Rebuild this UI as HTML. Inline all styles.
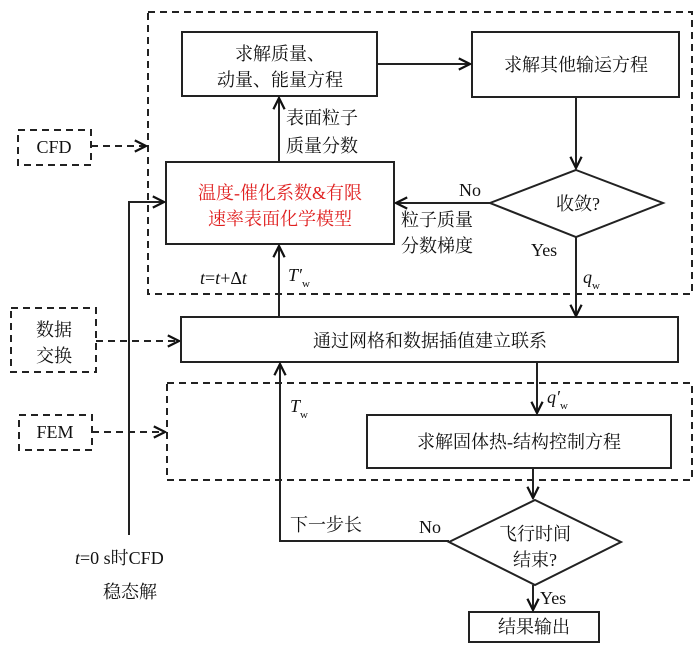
<!DOCTYPE html>
<html><head><meta charset="utf-8"><style>
html,body{margin:0;padding:0;background:#fff}
svg text{font-family:"Liberation Serif","Noto Serif CJK SC",serif;font-size:18px;fill:#111}
</style></head><body>
<svg width="700" height="650" viewBox="0 0 700 650" xmlns="http://www.w3.org/2000/svg">
<defs>
<marker id="a" viewBox="0 0 10 10" refX="9" refY="5" markerWidth="7" markerHeight="7" orient="auto-start-reverse">
<path d="M1,1 L9,5 L1,9" fill="none" stroke="#111" stroke-width="1.6"/></marker>
</defs>
<g fill="none" stroke="#222" stroke-width="2" stroke-dasharray="7,5">
<rect x="148" y="12" width="544" height="282"/>
<rect x="167" y="383" width="525" height="97"/>
<rect x="18" y="130" width="73" height="35"/>
<rect x="11" y="308" width="85" height="64"/>
<rect x="19" y="415" width="73" height="35"/>
<path d="M91,146 H146" marker-end="url(#a)"/>
<path d="M96,341 H179" marker-end="url(#a)"/>
<path d="M92,432 H165" marker-end="url(#a)"/>
</g>
<g fill="#fff" stroke="#222" stroke-width="2">
<rect x="182" y="32" width="195" height="64"/>
<rect x="472" y="32" width="207" height="65"/>
<rect x="166" y="162" width="228" height="82"/>
<rect x="181" y="317" width="497" height="45"/>
<rect x="367" y="415" width="304" height="53"/>
<rect x="469" y="612" width="130" height="30"/>
<polygon points="576,170 663,203 576,237 490,203"/>
<polygon points="535,500 621,542 535,585 449,542"/>
</g>
<g fill="none" stroke="#222" stroke-width="2">
<path d="M377,64 H470" marker-end="url(#a)"/>
<path d="M576,97 V168" marker-end="url(#a)"/>
<path d="M490,203 H396" marker-end="url(#a)"/>
<path d="M279,162 V98" marker-end="url(#a)"/>
<path d="M279,317 V246" marker-end="url(#a)"/>
<path d="M576,237 V316" marker-end="url(#a)"/>
<path d="M129,535 V202 H164" marker-end="url(#a)"/>
<path d="M537,362 V413" marker-end="url(#a)"/>
<path d="M533,468 V498" marker-end="url(#a)"/>
<path d="M449,541 H280 V364" marker-end="url(#a)"/>
<path d="M533,585 V610" marker-end="url(#a)"/>
</g>
<g text-anchor="middle">
<text x="280" y="60">求解质量、</text>
<text x="280" y="86">动量、能量方程</text>
<text x="576" y="71">求解其他输运方程</text>
<text x="280" y="199" style="fill:#e02020">温度-催化系数&amp;有限</text>
<text x="280" y="225" style="fill:#e02020">速率表面化学模型</text>
<text x="578" y="210">收敛?</text>
<text x="430" y="347">通过网格和数据插值建立联系</text>
<text x="519" y="448">求解固体热-结构控制方程</text>
<text x="534" y="633">结果输出</text>
<text x="535" y="540">飞行时间</text>
<text x="535" y="566">结束?</text>
<text x="54" y="153">CFD</text>
<text x="54" y="336">数据</text>
<text x="54" y="362">交换</text>
<text x="55" y="438">FEM</text>
<text x="130" y="598">稳态解</text>
</g>
<text x="286" y="124">表面粒子</text>
<text x="286" y="152">质量分数</text>
<text x="401" y="226">粒子质量</text>
<text x="401" y="252">分数梯度</text>
<text x="459" y="196">No</text>
<text x="531" y="256">Yes</text>
<text x="419" y="533">No</text>
<text x="540" y="604">Yes</text>
<text x="290" y="531">下一步长</text>
<text x="200" y="284"><tspan font-style="italic">t</tspan>=<tspan font-style="italic">t</tspan>+Δ<tspan font-style="italic">t</tspan></text>
<text x="288" y="281" font-style="italic">T′<tspan font-size="11" dy="6" font-style="normal">w</tspan></text>
<text x="583" y="283" font-style="italic">q<tspan font-size="11" dy="6" font-style="normal">w</tspan></text>
<text x="547" y="403" font-style="italic">q′<tspan font-size="11" dy="6" font-style="normal">w</tspan></text>
<text x="290" y="412" font-style="italic">T<tspan font-size="11" dy="6" font-style="normal">w</tspan></text>
<text x="75" y="564"><tspan font-style="italic">t</tspan>=0 s时CFD</text>
</svg>
</body></html>
